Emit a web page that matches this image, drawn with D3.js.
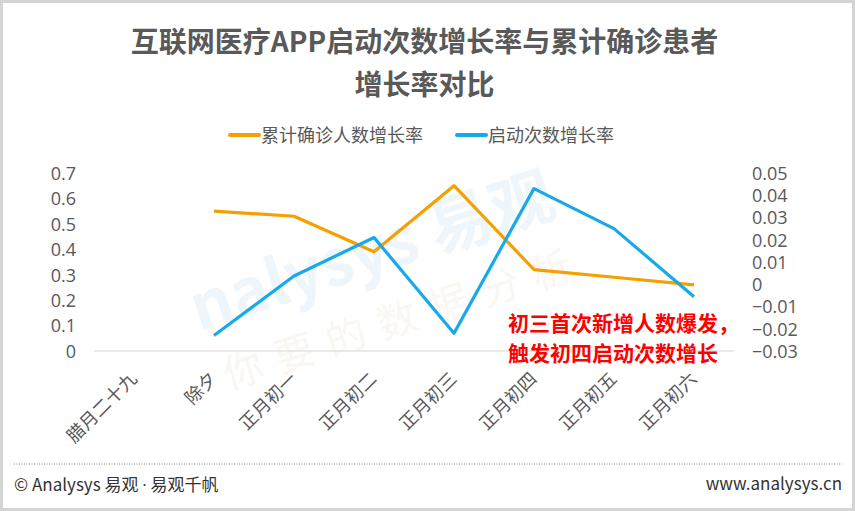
<!DOCTYPE html>
<html><head><meta charset="utf-8">
<script src="https://cdn.jsdelivr.net/npm/d3@7"></script>
<style>
html,body{margin:0;padding:0;background:#fff;}
svg{display:block;}
text{font-family:"Noto Sans CJK SC","Noto Sans",sans-serif;}
</style></head>
<body>
<svg id="c" width="855" height="511"></svg>
<script>
const categories = ["腊月二十九","除夕","正月初一","正月初二","正月初三","正月初四","正月初五","正月初六"];
const confirmedGrowth = [null,0.55,0.53,0.39,0.65,0.32,0.29,0.26];
const launchGrowth = [null,-0.023,0.0037,0.021,-0.022,0.043,0.025,-0.0056];
const leftTicks = [0,0.1,0.2,0.3,0.4,0.5,0.6,0.7];
const rightTicks = [-0.03,-0.02,-0.01,0,0.01,0.02,0.03,0.04,0.05];
const seriesNames = ["累计确诊人数增长率","启动次数增长率"];
const titleLines = ["互联网医疗APP启动次数增长率与累计确诊患者","增长率对比"];
const noteLines = ["初三首次新增人数爆发，","触发初四启动次数增长"];

const svg = d3.select("#c");
const W = 855, H = 511;
const orange = "#F5A000", blue = "#17A9EA", gray = "#595959";

// border
svg.append("rect").attr("x",1.5).attr("y",1.5).attr("width",W-3).attr("height",H-3)
  .attr("fill","#fff").attr("stroke","#d4d4d4").attr("stroke-width",3);

// watermark
const wm = svg.append("g").attr("opacity",0.07).attr("transform","translate(420,270) rotate(-18)");
wm.append("text").attr("x",-40).attr("y",-10).attr("text-anchor","middle")
  .attr("font-size",64).attr("font-weight","bold").attr("fill","#1a8fd6").text("nalysys 易观");
wm.append("text").attr("x",-30).attr("y",55).attr("text-anchor","middle")
  .attr("font-size",40).attr("fill","#c88a50").attr("letter-spacing",14).text("你要的数据分析");

// title
svg.selectAll("text.title").data(titleLines).join("text").attr("class","title")
  .attr("x",W/2 - 3).attr("y",(d,i)=>52 + i*43).attr("text-anchor","middle")
  .attr("font-size",28).attr("font-weight","bold").attr("fill",gray).text(d=>d);

// scales
const x = d3.scaleBand().domain(categories).range([94,734]);
const yL = d3.scaleLinear().domain([0,0.7]).range([351,173]);
const yR = d3.scaleLinear().domain([-0.03,0.05]).range([351,173]);

// baseline
svg.append("line").attr("x1",94).attr("x2",734).attr("y1",yL(0)).attr("y2",yL(0))
  .attr("stroke","#e3e3e3").attr("stroke-width",1.5);

// left axis
const axL = svg.append("g").attr("transform","translate(76,0)")
  .call(d3.axisLeft(yL).tickValues(leftTicks).tickSize(0).tickPadding(0).tickFormat(d=>d===0?"0":d3.format(".1f")(d)));
axL.select(".domain").remove();
axL.selectAll("text").attr("font-size",18).attr("fill",gray).attr("dy","0.35em")
  .style("font-family","'Open Sans','Noto Sans',sans-serif");

// right axis
const axR = svg.append("g").attr("transform","translate(752,0)")
  .call(d3.axisRight(yR).tickValues(rightTicks).tickSize(0).tickPadding(0).tickFormat(d=>Math.abs(d)<1e-9?"0":d3.format(".2f")(d)));
axR.select(".domain").remove();
axR.selectAll("text").attr("font-size",18).attr("fill",gray).attr("dy","0.35em")
  .style("font-family","'Open Sans','Noto Sans',sans-serif");

// x labels
const cx = d => x(d) + x.bandwidth()/2;
svg.selectAll("text.xl").data(categories).join("text").attr("class","xl")
  .attr("transform",d=>`translate(${cx(d)+4},${380}) rotate(-45)`)
  .attr("text-anchor","end").attr("font-size",18).attr("fill",gray).text(d=>d);

// lines
const lineL = d3.line().defined(d=>d.v!==null).x(d=>cx(d.c)).y(d=>yL(d.v));
const lineR = d3.line().defined(d=>d.v!==null).x(d=>cx(d.c)).y(d=>yR(d.v));
svg.append("path").datum(categories.map((c,i)=>({c,v:confirmedGrowth[i]})))
  .attr("d",lineL).attr("fill","none").attr("stroke",orange).attr("stroke-width",3.2).attr("stroke-linejoin","round");
svg.append("path").datum(categories.map((c,i)=>({c,v:launchGrowth[i]})))
  .attr("d",lineR).attr("fill","none").attr("stroke",blue).attr("stroke-width",3.2).attr("stroke-linejoin","round");

// legend
const lg = [{n:seriesNames[0],c:orange,x:230},{n:seriesNames[1],c:blue,x:457}];
lg.forEach(l=>{
  svg.append("line").attr("x1",l.x).attr("x2",l.x+29).attr("y1",135).attr("y2",135)
    .attr("stroke",l.c).attr("stroke-width",4).attr("stroke-linecap","round");
  svg.append("text").attr("x",l.x+31).attr("y",142).attr("font-size",18).attr("fill",gray).text(l.n);
});

// annotation
svg.selectAll("text.note").data(noteLines).join("text").attr("class","note")
  .attr("x",508).attr("y",(d,i)=>331+i*30).attr("font-size",21).attr("font-weight","bold")
  .attr("fill","#ff0000").text(d=>d);

// footer
svg.append("line").attr("x1",14).attr("x2",842).attr("y1",464).attr("y2",464)
  .attr("stroke","#888").attr("stroke-width",1).attr("stroke-dasharray","1,1.5");
const ft = svg.append("text").attr("x",14).attr("y",491).attr("font-size",17).attr("fill","#333");
ft.append("tspan").text("© Analysys 易观 ");
ft.append("tspan").style("font-family","'Open Sans',sans-serif").text("·");
ft.append("tspan").text(" 易观千帆");
svg.append("text").attr("x",842).attr("y",490).attr("text-anchor","end").attr("font-size",17).attr("fill","#333").text("www.analysys.cn");
</script>
</body></html>
